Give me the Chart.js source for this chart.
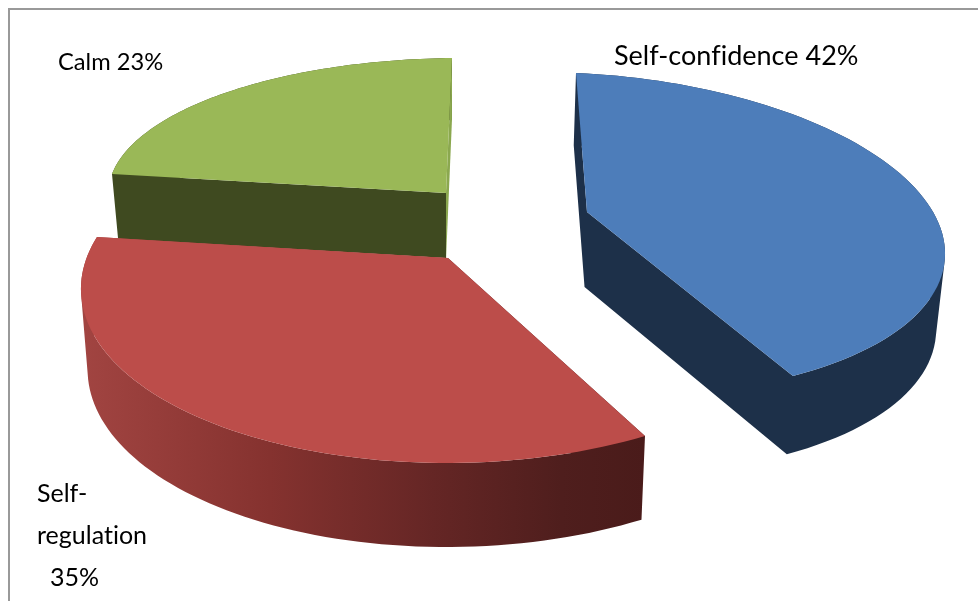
<!DOCTYPE html>
<html>
<head>
<meta charset="utf-8">
<title>Pie</title>
<script src="https://cdn.jsdelivr.net/npm/chart.js@4/dist/chart.umd.min.js"></script>
<style>
    html, body { margin: 0; background: #fff; overflow: hidden; }
    #frame { position: absolute; left: 8px; top: 8px; width: 970px; height: 593px; border-left: 2px solid #999; border-top: 2px solid #999; }
    canvas { position: absolute; left: 0; top: 0; }
</style>
</head>
<body>
<div id="frame"></div>
<canvas id="chart" width="978" height="601"></canvas>
<script>
// DATA

const categories = ['Self-confidence', 'Self-regulation', 'Calm'];
const values = [42, 35, 23];
const labelLines = [
    ['Self-confidence 42%'],
    ['Self-', 'regulation', '35%'],
    ['Calm 23%']
];


// LOOK

const topColors = ['#4d7dba', '#bc4d4a', '#9ab857'];
const drawOrder = [2, 0, 1];

// one perspective view per exploded slice, the sector is projected through it
const sliceViews = [
    { origin: [587, 212], m: [356.1, 12.49, 14.5, 157.8], w: [0.0091, -0.135], depth: 75 },
    { origin: [448, 258], m: [369.9, -10.3, 0.03, 174.5], w: [-0.0234, -0.1483], depth: 80 },
    { origin: [446, 193], m: [355.3, -6.06, 2.93, 136.4], w: [-0.0522, -0.0104], depth: 65 }
];
const wallColors = [
    { start: '#1d3049', end: '#1d3049', arc: '#1d3049' },
    { start: 'gradient', end: '#9d413e', arc: 'gradient' },
    { start: '#3f4a20', end: '#8ba84f', arc: '#3f4a20' }
];
const labelStyle = [
    { x: 614, y: 65, gap: 0, size: 27, indent: [0] },
    { x: 37, y: 502, gap: 42, size: 25, indent: [0, 0, 13] },
    { x: 58, y: 70, gap: 0, size: 23.7, indent: [0] }
];


// 3D HELPERS

const project = (view, ux, uy) => {
    const s = 1 + view.w[0] * ux + view.w[1] * uy;
    return {
        x: view.origin[0] + (view.m[0] * ux + view.m[1] * uy) / s,
        y: view.origin[1] + (view.m[2] * ux + view.m[3] * uy) / s
    };
};

// bottom face: verticals lean towards the middle and grow slightly down the picture
const dropped = (view, p) => ({
    x: p.x + (450 - p.x) * 0.018,
    y: p.y + view.depth + (p.y - view.origin[1]) * 0.02
});

const area = (pts) => pts.reduce((sum, p, i) => {
    const q = pts[(i + 1) % pts.length];
    return sum + p.x * q.y - q.x * p.y;
}, 0);

// all polys go in one path, wound the same way, so no seams show between them
const fillPolys = (ctx, polys, fill) => {
    ctx.beginPath();
    polys.forEach(poly => {
        const pts = area(poly) < 0 ? [...poly].reverse() : poly;
        pts.forEach((p, i) => i ? ctx.lineTo(p.x, p.y) : ctx.moveTo(p.x, p.y));
        ctx.closePath();
    });
    ctx.fillStyle = fill;
    ctx.fill();
};

const redGradient = (ctx) => {
    const g = ctx.createLinearGradient(85, 0, 645, 0);
    g.addColorStop(0, '#a14441');
    g.addColorStop(0.33, '#85322f');
    g.addColorStop(0.62, '#652625');
    g.addColorStop(0.85, '#4f1e1d');
    g.addColorStop(1, '#4a1b1a');
    return g;
};

const drawSlice = (ctx, arc, i) => {
    const view = sliceViews[i];
    const colors = wallColors[i];
    const paint = (c) => c === 'gradient' ? redGradient(ctx) : c;
    const { startAngle, endAngle } = arc.getProps(['startAngle', 'endAngle'], true);

    const rim = [];
    const steps = 80;
    for (let k = 0; k <= steps; k++) {
        const a = startAngle + (endAngle - startAngle) * k / steps;
        rim.push(project(view, Math.cos(a), Math.sin(a)));
    }
    const apex = project(view, 0, 0);
    const first = rim[0];
    const last = rim[steps];
    const startWall = [first, apex, dropped(view, apex), dropped(view, first)];
    const endWall = [apex, last, dropped(view, last), dropped(view, apex)];

    const arcWall = [];
    for (let k = 0; k < steps; k++) {
        arcWall.push([rim[k], rim[k + 1], dropped(view, rim[k + 1]), dropped(view, rim[k])]);
    }

    // walls of one colour share a path, then the top face goes over them
    const walls = [[arcWall, colors.arc]];
    [[startWall, colors.start], [endWall, colors.end]].forEach(([wall, color]) => {
        const same = walls.find(w => w[1] === color);
        if (same) same[0].push(wall);
        else walls.push([[wall], color]);
    });
    walls.forEach(([polys, color]) => fillPolys(ctx, polys, paint(color)));
    fillPolys(ctx, [[apex, ...rim]], topColors[i]);
};


// PLUGIN

const pie3d = {
    id: 'pie3d',
    beforeDatasetsDraw(chart) {
        const ctx = chart.ctx;
        const arcs = chart.getDatasetMeta(0).data;
        ctx.save();
        drawOrder.forEach(i => drawSlice(ctx, arcs[i], i));

        ctx.fillStyle = '#000';
        ctx.textBaseline = 'alphabetic';
        ctx.letterSpacing = '0.01px'; // keeps "fi" as two letters
        labelLines.forEach((lines, i) => {
            const style = labelStyle[i];
            ctx.font = `${style.size}px Lato`;
            lines.forEach((line, n) => {
                ctx.fillText(line, style.x + style.indent[n], style.y + n * style.gap);
            });
        });
        ctx.restore();
        return false; // the plain flat arcs are not wanted
    }
};


// INIT

new Chart(document.getElementById('chart'), {
    type: 'pie',
    data: { labels: categories, datasets: [{ data: values, backgroundColor: topColors }] },
    options: {
        responsive: false,
        animation: false,
        plugins: { legend: { display: false }, tooltip: { enabled: false } }
    },
    plugins: [pie3d]
});
</script>
</body>
</html>
